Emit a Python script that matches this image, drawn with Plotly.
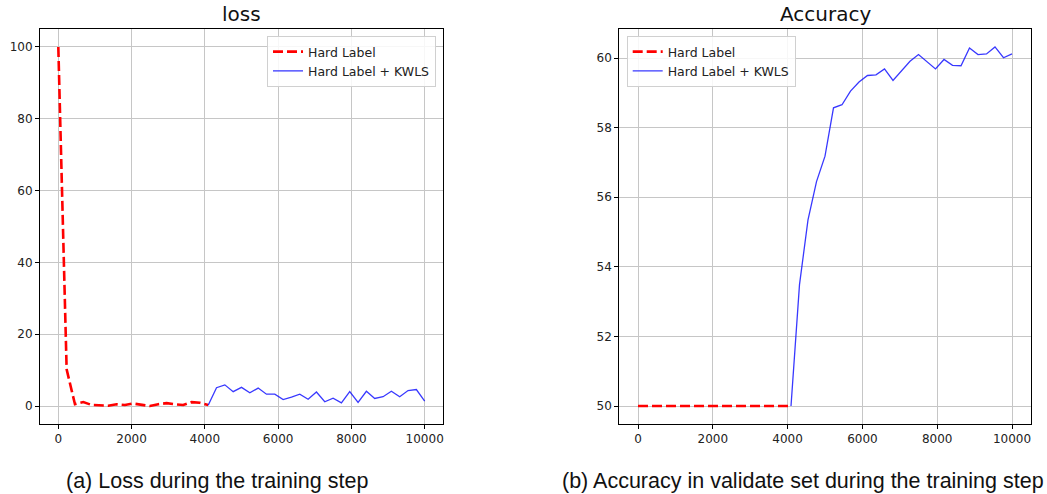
import numpy as np
import plotly.graph_objects as go

# ---- data ----
steps = np.linspace(0, 10000, 45)

loss_hard = [100, 10.2, 0.5, 1.1, 0.3, 0.2, 0.1, 0.5, 0.3, 0.7, 0.3, 0.0, 0.5,
             0.8, 0.5, 0.3, 1.1, 0.9, 0.3]
loss_kwls = [0.2, 5.1, 5.9, 4.0, 5.2, 3.7, 5.0, 3.3, 3.3, 1.8, 2.5, 3.3, 1.9, 3.9,
             1.2, 2.2, 0.9, 4.0, 1.0, 4.1, 2.1, 2.6, 4.1, 2.6, 4.3, 4.6, 1.4]

acc_hard = [50.0] * 19
acc_kwls = [50.0, 53.49, 55.35, 56.45, 57.18, 58.57, 58.66, 59.05, 59.31, 59.50,
            59.52, 59.69, 59.36, 59.63, 59.91, 60.10, 59.90, 59.69, 59.96, 59.79,
            59.78, 60.29, 60.10, 60.12, 60.32, 60.01, 60.12]

x_hard = steps[:19]
x_kwls = steps[18:]

series_names = ["Hard Label", "Hard Label + KWLS"]
titles = ["loss", "Accuracy"]
captions = ["(a) Loss during the training step",
            "(b) Accuracy in validate set during the training step"]
x_ticks = [0, 2000, 4000, 6000, 8000, 10000]
x_tick_text = ["0", "2000", "4000", "6000", "8000", "10000"]
loss_ticks = [0, 20, 40, 60, 80, 100]
acc_ticks = [50, 52, 54, 56, 58, 60]

W, H = 1047, 494
RED = "#ff0000"
BLUE = "rgba(0,0,255,0.78)"
FONT = "DejaVu Sans"

fig = go.Figure()

fig.add_trace(go.Scatter(x=x_hard, y=loss_hard, mode="lines", name=series_names[0],
                         line=dict(color=RED, width=2.6, dash="10px,4px"),
                         xaxis="x", yaxis="y", legend="legend"))
fig.add_trace(go.Scatter(x=x_kwls, y=loss_kwls, mode="lines", name=series_names[1],
                         line=dict(color=BLUE, width=1.3),
                         xaxis="x", yaxis="y", legend="legend"))
fig.add_trace(go.Scatter(x=x_hard, y=acc_hard, mode="lines", name=series_names[0],
                         line=dict(color=RED, width=2.6, dash="10px,4px"),
                         xaxis="x2", yaxis="y2", legend="legend2"))
fig.add_trace(go.Scatter(x=x_kwls, y=acc_kwls, mode="lines", name=series_names[1],
                         line=dict(color=BLUE, width=1.3),
                         xaxis="x2", yaxis="y2", legend="legend2"))

def px_x(v):
    return v / W

def px_y(v):
    return 1 - v / H

axis_common = dict(
    showline=True, linecolor="black", linewidth=1, mirror=True,
    showgrid=True, gridcolor="#c6c6c6", gridwidth=1,
    ticks="outside", ticklen=4, tickcolor="black", tickwidth=1,
    tickfont=dict(family=FONT, size=12, color="#222222"),
    zeroline=False,
)

loss_min, loss_max = 0, 100
acc_min, acc_max = min(acc_kwls), max(acc_kwls)
pad_l = 0.05 * (loss_max - loss_min)
pad_a = 0.05 * (acc_max - acc_min)

fig.update_layout(
    width=W, height=H,
    margin=dict(l=0, r=0, t=0, b=0),
    paper_bgcolor="white", plot_bgcolor="white",
    font=dict(family=FONT, color="#222222"),
    xaxis=dict(domain=[px_x(40), px_x(443)], range=[-500, 10500],
               tickvals=x_ticks, ticktext=x_tick_text, anchor="y", **axis_common),
    yaxis=dict(domain=[px_y(424), px_y(29)], range=[loss_min - pad_l, loss_max + pad_l],
               tickvals=loss_ticks, anchor="x", **axis_common),
    xaxis2=dict(domain=[px_x(619.3), px_x(1030.7)], range=[-500, 10500],
                tickvals=x_ticks, ticktext=x_tick_text, anchor="y2", **axis_common),
    yaxis2=dict(domain=[px_y(424), px_y(29)], range=[acc_min - pad_a, acc_max + pad_a],
                tickvals=acc_ticks, anchor="x2", **axis_common),
    legend=dict(x=px_x(436), y=px_y(36), xanchor="right", yanchor="top",
                bgcolor="rgba(255,255,255,0.85)", bordercolor="#d0d0d0", borderwidth=1,
                font=dict(family=FONT, size=12.5, color="#222222"),
                tracegroupgap=0),
    legend2=dict(x=px_x(626.7), y=px_y(36), xanchor="left", yanchor="top",
                 bgcolor="rgba(255,255,255,0.85)", bordercolor="#d0d0d0", borderwidth=1,
                 font=dict(family=FONT, size=12.5, color="#222222"),
                 tracegroupgap=0),
    showlegend=True,
)

# titles
for cx, t in [((40 + 443) / 2, titles[0]), ((619.3 + 1030.7) / 2, titles[1])]:
    fig.add_annotation(x=px_x(cx), y=px_y(14), xref="paper", yref="paper",
                       text=t, showarrow=False, xanchor="center", yanchor="middle",
                       font=dict(family=FONT, size=20, color="#111111"))

# captions
for cx, t in [(216.5, captions[0]), (803, captions[1])]:
    fig.add_annotation(x=px_x(cx), y=px_y(481), xref="paper", yref="paper",
                       text=t, showarrow=False, xanchor="center", yanchor="middle",
                       font=dict(family="Liberation Sans", size=21.5, color="#111111"))

fig.write_html("out.html", config={"displayModeBar": False},
               post_script="document.body.style.margin='0';document.body.style.overflow='hidden';")
